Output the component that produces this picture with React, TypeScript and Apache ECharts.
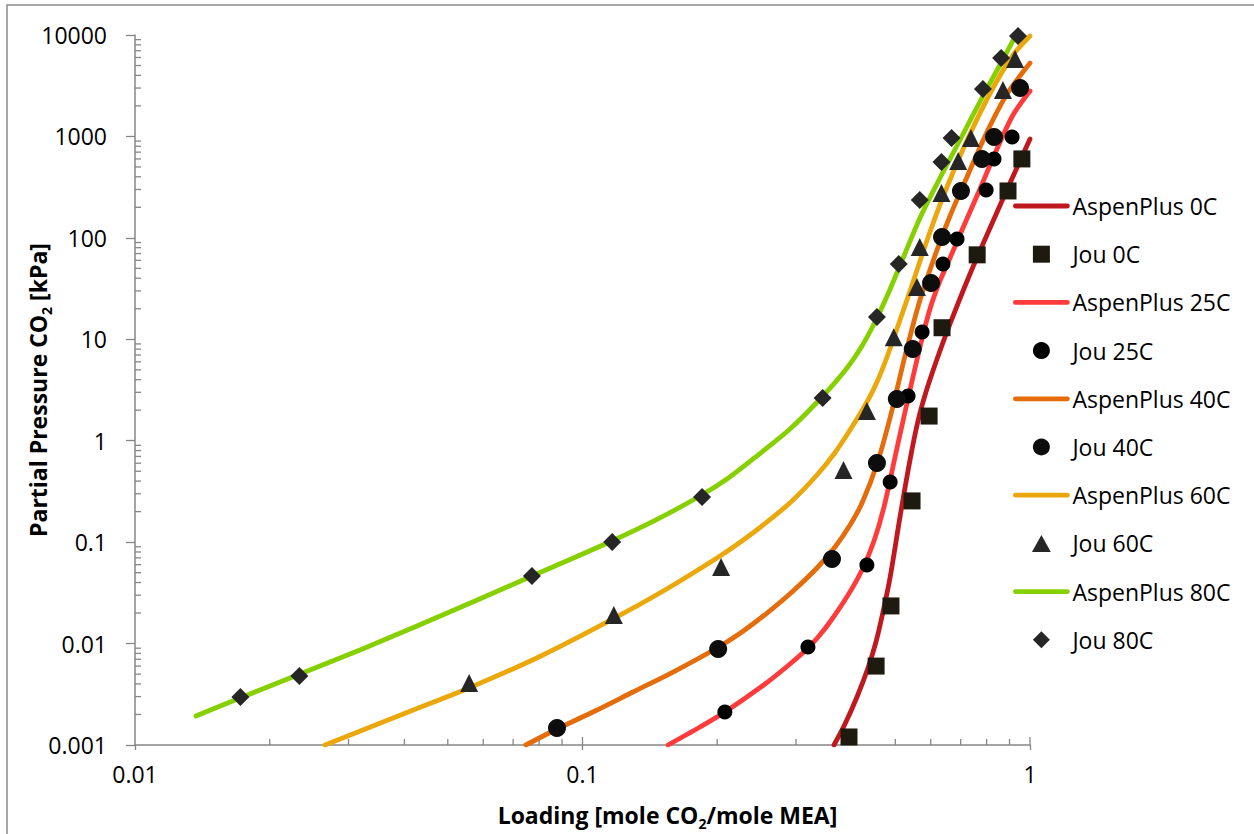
import { useEffect, useRef } from 'react';
import * as echarts from 'echarts';

const FONT = '"Open Sans", "DejaVu Sans", sans-serif';
const AXIS_COLOR = '#868686';

// Tick labels
const xTickLabels = ['0.01', '0.1', '1'];
const yTickLabels = ['0.001', '0.01', '0.1', '1', '10', '100', '1000', '10000'];
const minorMultipliers = [2, 3, 4, 5, 6, 7, 8, 9];
const xDecades = [0.01, 0.1];
const yDecades = [0.001, 0.01, 0.1, 1, 10, 100, 1000];

const temps = ['0C', '25C', '40C', '60C', '80C'];

// AspenPlus model curves: [loading, partial pressure kPa]
const aspen0C = [
  [0.36475, 0.001], [0.38597, 0.001611], [0.41054, 0.002974], [0.43445, 0.005743], [0.45275, 0.010366],
  [0.46935, 0.020473], [0.48659, 0.04431], [0.51228, 0.177], [0.53932, 0.6455], [0.56191, 1.5648],
  [0.58551, 3.0222], [0.61657, 5.9717], [0.66256, 14.153], [0.73431, 44.02], [0.81404, 125.12],
  [0.90227, 347.3], [1.0, 943.4],
];
const aspen25C = [
  [0.15527, 0.001], [0.18307, 0.0015046], [0.20816, 0.0021157], [0.2558, 0.0039945], [0.29084, 0.0062884],
  [0.31906, 0.0090449], [0.33763, 0.011877], [0.35727, 0.01632], [0.39212, 0.030118], [0.42131, 0.05314],
  [0.44811, 0.10264], [0.47176, 0.22209], [0.50442, 0.84769], [0.53932, 3.1627], [0.57066, 9.1917],
  [0.59764, 19.894], [0.62934, 37.561], [0.66256, 63.302], [0.70803, 125.12], [0.77304, 303.1],
  [0.84375, 751.7], [0.91626, 1626.6], [1.0, 2805],
];
const aspen40C = [
  [0.074717, 0.001], [0.087694, 0.0014379], [0.10664, 0.0021642], [0.12968, 0.0033319], [0.16095, 0.0053646],
  [0.19978, 0.0090449], [0.22714, 0.013008], [0.25844, 0.020013], [0.29385, 0.032256], [0.33417, 0.055609],
  [0.36664, 0.089564], [0.39618, 0.1476], [0.42131, 0.24309], [0.45508, 0.58946], [0.48659, 1.6749],
  [0.52564, 6.8435], [0.56773, 24.393], [0.6197, 75.923], [0.66256, 164.27], [0.72308, 398.12],
  [0.80149, 1105.8], [0.88854, 2620], [1.0, 5295],
];
const aspen60C = [
  [0.026583, 0.001], [0.035819, 0.0016856], [0.044693, 0.00248], [0.055767, 0.0036488], [0.080778, 0.0075443],
  [0.117, 0.017472], [0.15287, 0.033752], [0.19978, 0.069783], [0.22714, 0.10264], [0.25844, 0.158],
  [0.29385, 0.25449], [0.33417, 0.45923], [0.36475, 0.73965], [0.39618, 1.2757], [0.43227, 2.4083],
  [0.45508, 3.7924], [0.47913, 6.6897], [0.51228, 15.497], [0.53932, 29.928], [0.59764, 114.22],
  [0.65241, 317.2], [0.73431, 1056.7], [0.82658, 3002.5], [0.91626, 6350], [1.0, 9775],
];
const aspen80C = [
  [0.013685, 0.0019318], [0.017168, 0.002907], [0.023372, 0.0050129], [0.031826, 0.0086437], [0.042673, 0.014904],
  [0.057517, 0.026291], [0.077127, 0.046369], [0.1164, 0.10264], [0.14596, 0.16537], [0.18307, 0.28508],
  [0.21031, 0.41953], [0.24044, 0.66054], [0.29084, 1.3048], [0.34288, 2.698], [0.3901, 5.2125],
  [0.42131, 8.586], [0.45275, 15.497], [0.4816, 27.961], [0.50964, 50.449], [0.56773, 156.97],
  [0.63259, 407.32], [0.69758, 922.2], [0.78518, 2504], [0.86145, 5295], [0.93052, 10000],
];

// Jou measured data: [loading, partial pressure kPa]
const jou0C = [
  [0.394, 0.0012], [0.453, 0.006], [0.489, 0.0235], [0.545, 0.255], [0.595, 1.75],
  [0.636, 13], [0.762, 68], [0.893, 290], [0.959, 600],
];
const jou25C = [
  [0.208, 0.00211], [0.319, 0.00925], [0.432, 0.0596], [0.487, 0.392], [0.534, 2.76],
  [0.574, 11.8], [0.639, 55.2], [0.687, 97.5], [0.798, 296], [0.831, 600], [0.912, 986],
];
const jou40C = [
  [0.0877, 0.00147], [0.201, 0.00885], [0.361, 0.0682], [0.455, 0.603], [0.504, 2.58],
  [0.547, 8.02], [0.601, 35.9], [0.636, 102], [0.701, 290], [0.781, 600], [0.831, 986],
  [0.95, 3003],
];
const jou60C = [
  [0.0558, 0.00408], [0.1175, 0.0191], [0.204, 0.0569], [0.383, 0.514], [0.432, 1.96],
  [0.496, 10.5], [0.559, 32.8], [0.567, 81.3], [0.634, 277], [0.691, 572], [0.738, 965],
  [0.87, 2870], [0.926, 5800],
];
const jou80C = [
  [0.0172, 0.00297], [0.0233, 0.00479], [0.0771, 0.0464], [0.1165, 0.1004], [0.185, 0.279],
  [0.344, 2.64], [0.455, 16.6], [0.509, 55.2], [0.567, 236], [0.634, 560], [0.668, 965],
  [0.785, 2935], [0.862, 5935], [0.94, 9775],
];

const curves = [aspen0C, aspen25C, aspen40C, aspen60C, aspen80C];
const measured = [jou0C, jou25C, jou40C, jou60C, jou80C];

const lineColors = ['#C0181F', '#FF3B3B', '#E46C0A', '#EAA80C', '#86D000'];
const markerStyles = [
  { symbol: 'rect', size: 17, color: '#1F1A0F', legendIcon: 'path://M0,0H10V10H0Z' },
  { symbol: 'circle', size: 15, color: '#000000', legendIcon: 'circle' },
  { symbol: 'circle', size: 18, color: '#0D0D0D', legendIcon: 'circle' },
  { symbol: 'triangle', size: 18, color: '#262626', legendIcon: 'path://M5,0L10,9L0,9Z' },
  { symbol: 'diamond', size: 18, color: '#262626', legendIcon: 'path://M5,0L10,5L5,10L0,5Z' },
];

const xMinor = xDecades.flatMap((d) => minorMultipliers.map((m) => +(m * d).toPrecision(3)));
const yMinor = yDecades.flatMap((d) => minorMultipliers.map((m) => +(m * d).toPrecision(3)));

const LINE_W = 4.8;

function buildOption() {
  const legendData: any[] = [];
  const series: any[] = [];
  temps.forEach((t, i) => {
    const lineName = 'AspenPlus ' + t;
    const jouName = 'Jou ' + t;
    legendData.push({ name: lineName, itemStyle: { opacity: 0 } });
    legendData.push({ name: jouName, icon: markerStyles[i].legendIcon });
    series.push({
      name: lineName,
      type: 'line',
      data: curves[i],
      symbol: 'none',
      showSymbol: false,
      smooth: 0.3,
      color: lineColors[i],
      lineStyle: { color: lineColors[i], width: LINE_W, cap: 'round', join: 'round' },
      emphasis: { disabled: true },
      z: 3,
    });
    series.push({
      name: jouName,
      type: 'scatter',
      data: measured[i],
      symbol: markerStyles[i].symbol,
      symbolSize: markerStyles[i].size,
      symbolKeepAspect: true,
      color: markerStyles[i].color,
      itemStyle: { color: markerStyles[i].color, opacity: 1 },
      emphasis: { disabled: true },
      z: 3,
    });
  });

  const xTickData = [
    ...xMinor.map((v) => [v, 0.001, 6]),
    [0.1, 0.001, 8],
    [1, 0.001, 8],
  ];
  const yTickData = yMinor.map((v) => [0.01, v, 6]);

  series.push({
    type: 'custom',
    name: 'xTicks',
    silent: true,
    coordinateSystem: 'cartesian2d',
    data: xTickData,
    z: 2,
    renderItem: (_params: any, api: any) => {
      const p = api.coord([api.value(0), api.value(1)]);
      const len = api.value(2);
      return {
        type: 'line',
        shape: { x1: p[0], y1: p[1], x2: p[0], y2: p[1] - len },
        style: { stroke: AXIS_COLOR, lineWidth: 1.3 },
      };
    },
  });
  series.push({
    type: 'custom',
    name: 'yTicks',
    silent: true,
    coordinateSystem: 'cartesian2d',
    data: yTickData,
    z: 2,
    renderItem: (_params: any, api: any) => {
      const p = api.coord([api.value(0), api.value(1)]);
      const len = api.value(2);
      return {
        type: 'line',
        shape: { x1: p[0], y1: p[1], x2: p[0] + len, y2: p[1] },
        style: { stroke: AXIS_COLOR, lineWidth: 1.3 },
      };
    },
  });

  const titleStyle = {
    fontFamily: FONT,
    fontSize: 23,
    fontWeight: 'bold',
    color: '#000000',
    lineHeight: 30,
    rich: {
      s: { fontFamily: FONT, fontSize: 14, fontWeight: 'bold', color: '#000000', lineHeight: 30, verticalAlign: 'bottom' },
    },
  };

  return {
    animation: false,
    backgroundColor: '#ffffff',
    textStyle: { fontFamily: FONT },
    grid: { left: 135, top: 35, width: 895, height: 710, containLabel: false, outerBoundsMode: 'none' },
    graphic: [
      {
        type: 'rect',
        silent: true,
        z: -10,
        shape: { x: 7, y: 5, width: 1400, height: 1000 },
        style: { fill: 'none', stroke: '#8c8c8c', lineWidth: 1.5 },
      },
    ],
    legend: {
      orient: 'vertical',
      left: 1013,
      top: 194.5,
      padding: 0,
      itemWidth: 52,
      itemHeight: 17,
      itemGap: 25.2,
      symbolKeepAspect: true,
      data: legendData,
      selectedMode: false,
      lineStyle: { width: LINE_W, cap: 'round' },
      textStyle: { fontFamily: FONT, fontSize: 23, color: '#000000' },
    },
    xAxis: {
      type: 'log',
      logBase: 10,
      min: 0.01,
      max: 1,
      splitNumber: 2,
      name: 'Loading [mole CO{s|2}/mole MEA]',
      nameLocation: 'middle',
      nameGap: 55,
      nameMoveOverlap: false,
      nameTextStyle: { ...titleStyle, padding: [0, 0, 0, 170] },
      axisLine: { show: true, onZero: false, lineStyle: { color: AXIS_COLOR, width: 1.5 } },
      axisTick: { show: true, inside: false, length: 5, lineStyle: { color: AXIS_COLOR, width: 1.3 } },
      splitLine: { show: false },
      axisLabel: {
        margin: 17,
        fontFamily: FONT,
        fontSize: 23,
        color: '#000000',
        showMinLabel: true,
        showMaxLabel: true,
        formatter: (v: number) => xTickLabels[Math.round(Math.log10(v)) + 2],
      },
    },
    yAxis: {
      type: 'log',
      logBase: 10,
      min: 0.001,
      max: 10000,
      splitNumber: 7,
      name: 'Partial Pressure CO{s|2} [kPa]',
      nameLocation: 'middle',
      nameGap: 82,
      nameMoveOverlap: false,
      nameTextStyle: titleStyle,
      axisLine: { show: true, onZero: false, lineStyle: { color: AXIS_COLOR, width: 1.5 } },
      axisTick: { show: true, inside: false, length: 9, lineStyle: { color: AXIS_COLOR, width: 1.3 } },
      splitLine: { show: false },
      axisLabel: {
        margin: 28,
        fontFamily: FONT,
        fontSize: 23,
        color: '#000000',
        showMinLabel: true,
        showMaxLabel: true,
        formatter: (v: number) => yTickLabels[Math.round(Math.log10(v)) + 3],
      },
    },
    series,
  };
}

export default function App() {
  const ref = useRef<HTMLDivElement | null>(null);
  useEffect(() => {
    if (!ref.current) return;
    const chart = echarts.init(ref.current, null, { renderer: 'svg', width: 1254, height: 834 });
    chart.setOption(buildOption() as any);
    return () => chart.dispose();
  }, []);
  return (
    <div
      ref={ref}
      style={{ position: 'fixed', left: 0, top: 0, width: 1254, height: 834, background: '#ffffff' }}
    />
  );
}
